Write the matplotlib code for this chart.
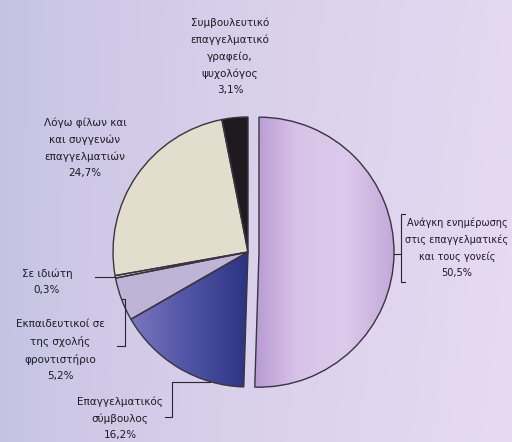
import numpy as np
import matplotlib
matplotlib.use("Agg")
import matplotlib.pyplot as plt
from matplotlib.patches import Wedge
from matplotlib.colors import LinearSegmentedColormap

# sources of information about studies / careers
labels = ["Ανάγκη ενημέρωσης\nστις επαγγελματικές\nκαι τους γονείς\n50,5%",
          "Επαγγελματικός\nσύμβουλος\n16,2%",
          "Εκπαιδευτικοί σε\nτης σχολής\nφροντιστήριο\n5,2%",
          "Σε ιδιώτη\n0,3%",
          "Λόγω φίλων και\nκαι συγγενών\nεπαγγελματιών\n24,7%",
          "Συμβουλευτικό\nεπαγγελματικό\nγραφείο,\nψυχολόγος\n3,1%"]
shares = [50.5, 16.2, 5.2, 0.3, 24.7, 3.1]

W, H = 512, 442
fig = plt.figure(figsize=(W / 100, H / 100), dpi=100)
ax = fig.add_axes([0, 0, 1, 1])

# background wash
gx = np.linspace(0, 1, 256)
gy = np.linspace(0, 1, 64)[:, None]
left = np.array([196, 194, 226]) / 255
right = np.array([232, 218, 242]) / 255
t = (gx[None, :] ** 0.7) * (0.92 + 0.08 * gy)
bg = left[None, None, :] * (1 - t[..., None]) + right[None, None, :] * t[..., None]
ax.imshow(bg, extent=[0, W, 0, H], aspect="auto", zorder=0)

cx, cy, r = 248, 190, 135
colors = ["#cdb7df", "#4a4c9c", "#bdb4d6", "#dcd8d0", "#e3ddcd", "#1e1a20"]
explode = [11, 0, 0, 0, 0, 0]

wedges, _ = ax.pie(shares, colors=colors, explode=explode, startangle=90,
                   counterclock=False, center=(cx, cy), radius=r,
                   wedgeprops=dict(linewidth=0))
for w in wedges:
    w.set_zorder(1)
ax.set_xlim(0, W)
ax.set_ylim(0, H)
ax.set_aspect("equal")
ax.axis("off")

# shaded fills for the two large wedges
def shade(w, x0, x1, cols):
    cm = LinearSegmentedColormap.from_list("s", cols)
    img = np.linspace(0, 1, 200)[None, :].repeat(4, axis=0)
    im = ax.imshow(img, cmap=cm, extent=[x0, x1, cy - r - 5, cy + r + 5],
                   aspect="auto", zorder=2)
    im.set_clip_path(w)

shade(wedges[0], cx, cx + r + 12, ["#b394cf", "#d8c3e8", "#dccaeb", "#c2a8da"])
shade(wedges[1], cx - r, cx, ["#8a82c8", "#5558a8", "#2c3482"])

# wedge outlines drawn on top of the shading
for w in wedges:
    ax.add_patch(Wedge(w.center, w.r, w.theta1, w.theta2, fill=False,
                       edgecolor="#3a3440", linewidth=1.0, zorder=3))

txt = dict(fontsize=7.5, color="#1c1a24", ha="center", va="center",
           linespacing=1.75, zorder=5)
pos = [(457, 194), (120, 24), (60, 92), (47, 160), (85, 294), (230, 386)]
for i, (lab, (px, py)) in enumerate(zip(labels, pos)):
    t = ax.text(px, py, lab, **txt)
    if i == 0:
        t.set_fontsize(7)

# leader lines from wedge rims to labels
def rim(i, frac=0.5):
    w = wedges[i]
    a = np.deg2rad(w.theta1 + (w.theta2 - w.theta1) * frac)
    return w.center[0] + w.r * np.cos(a), w.center[1] + w.r * np.sin(a)

lk = dict(color="#2a2630", lw=0.8, zorder=4)
x, y = rim(0, 0.5)
ax.plot([x, 401, 401, 405], [y, y, 160, 160], **lk)
ax.plot([401, 401, 405], [y, 228, 228], **lk)
x, y = rim(1, 0.75)
ax.plot([x, 172, 172, 165], [y, y, 25, 25], **lk)
x, y = rim(2, 0.5)
ax.plot([x, 125, 125, 117], [y, y, 96, 96], **lk)
x, y = rim(3, 0.5)
ax.plot([x, 95], [y, y], **lk)

fig.savefig("out.png", dpi=100)
